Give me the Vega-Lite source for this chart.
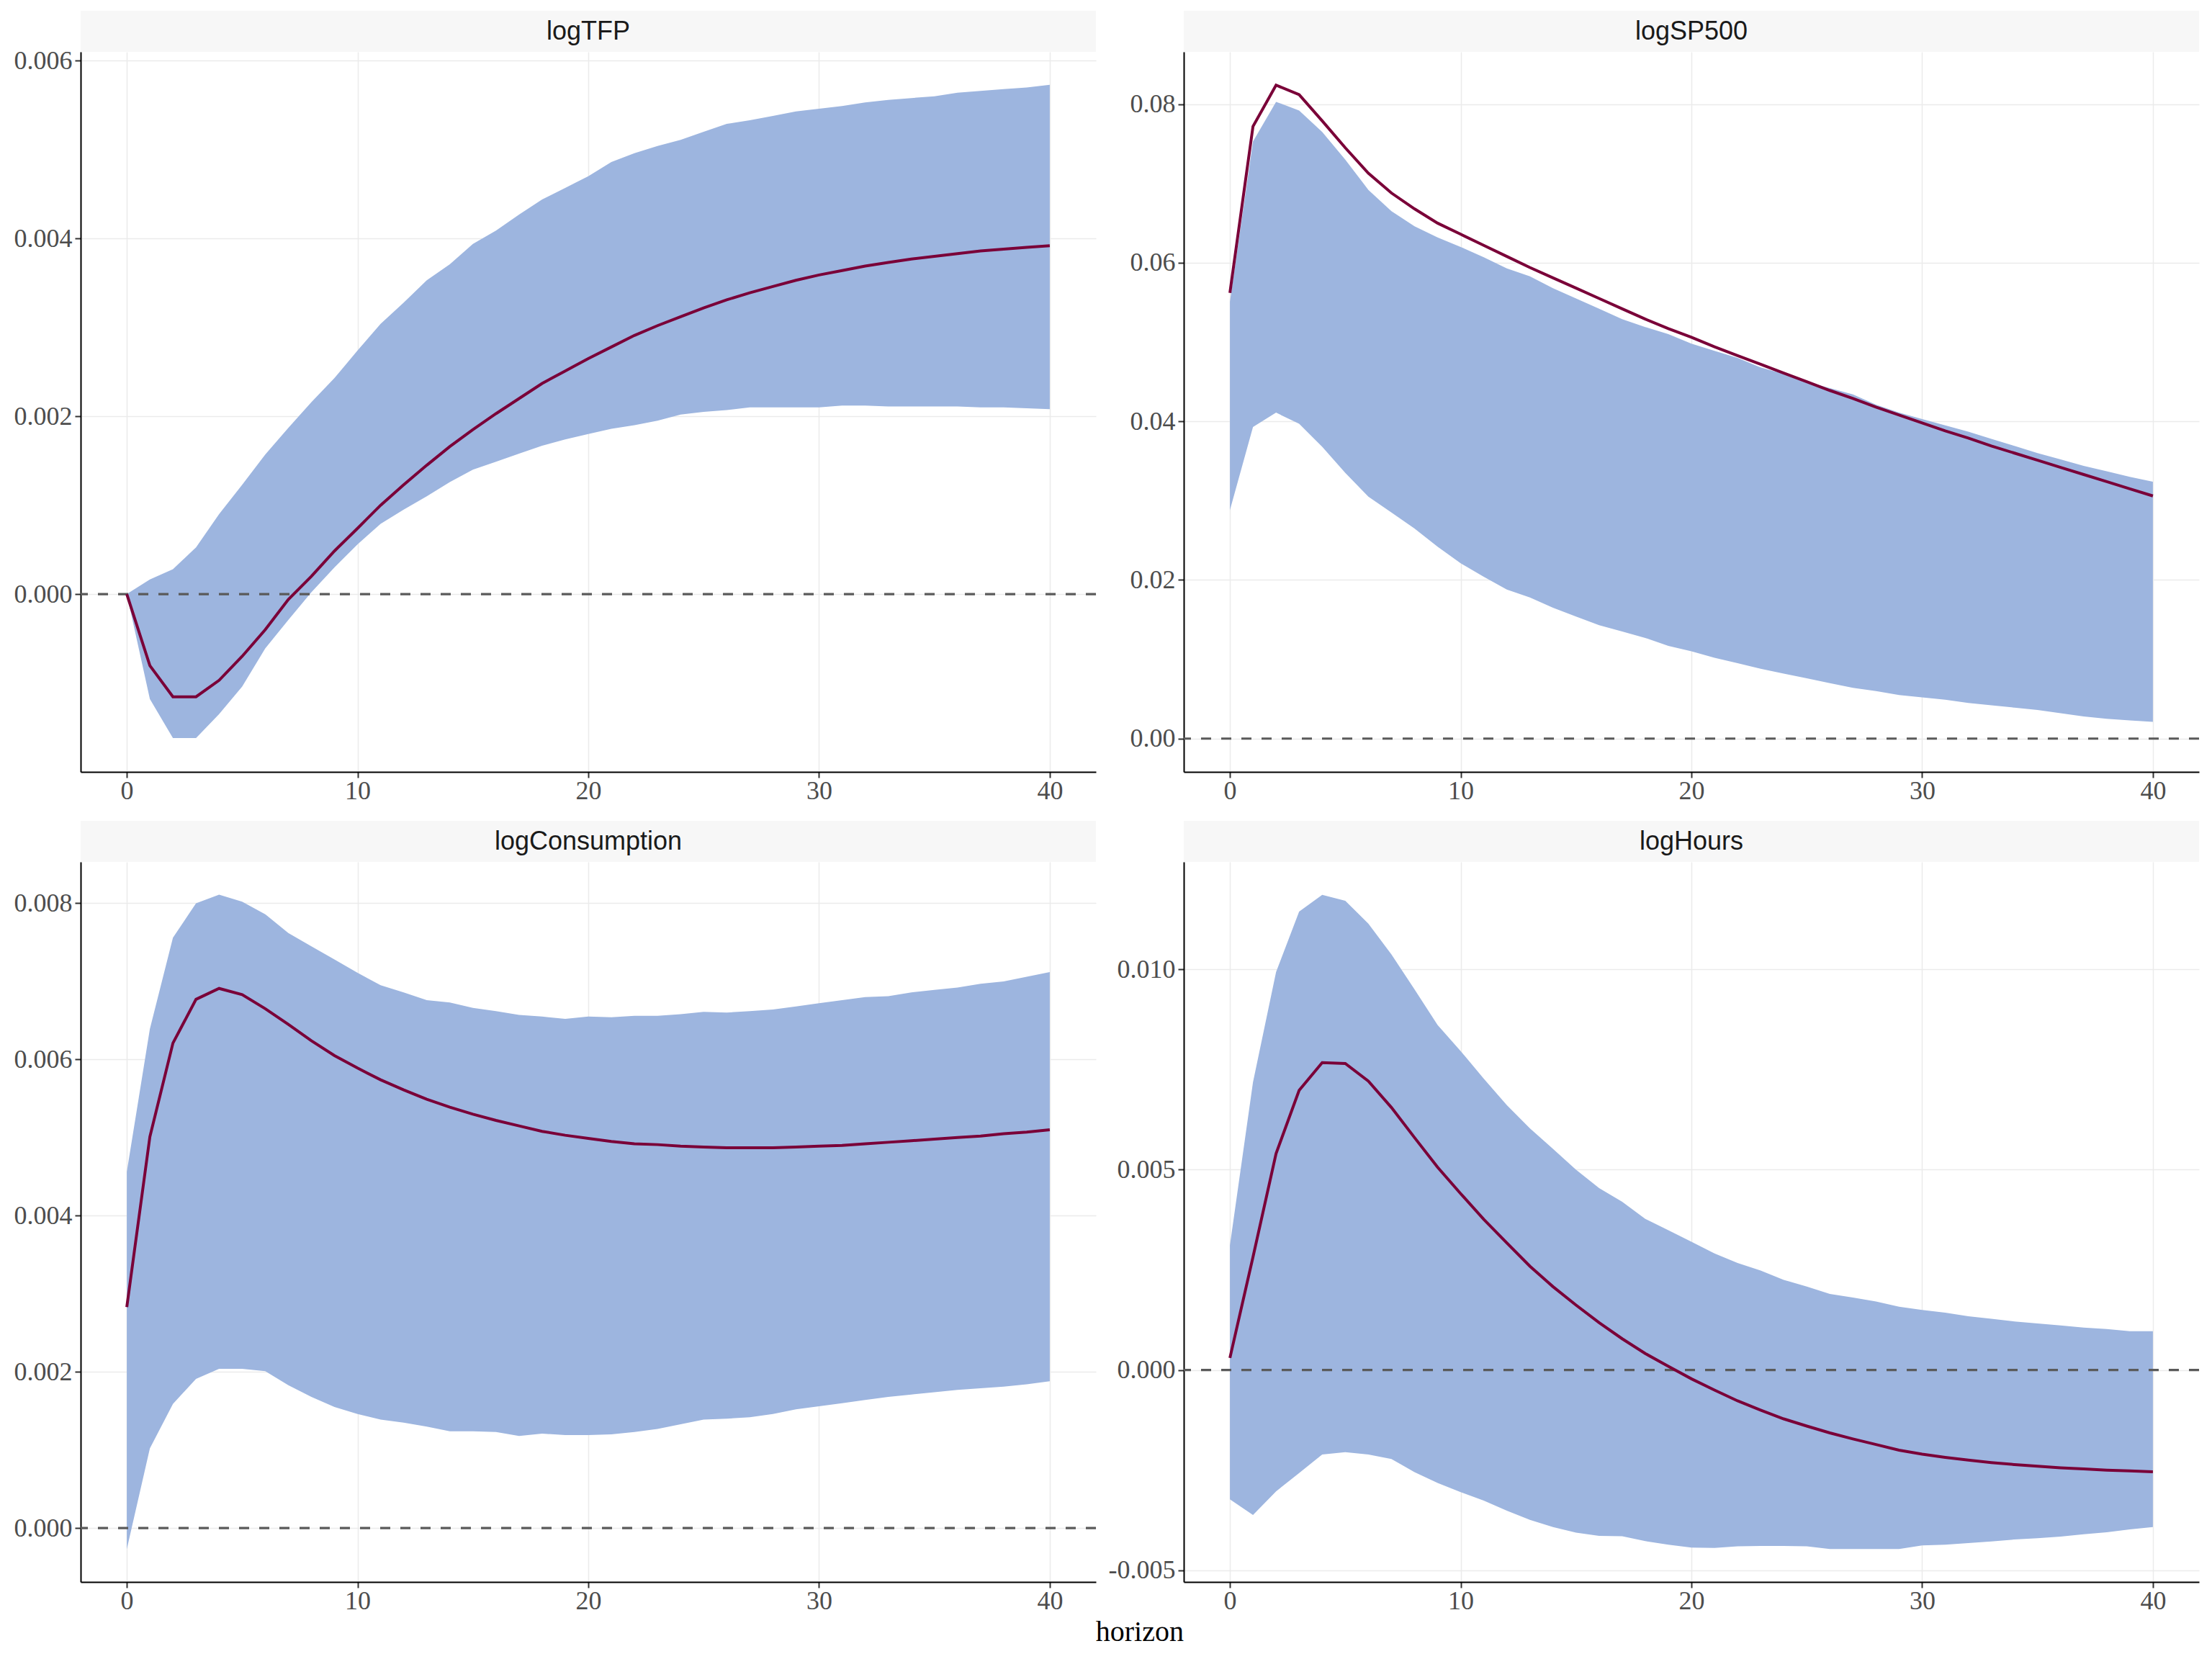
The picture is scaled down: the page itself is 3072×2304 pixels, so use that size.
{
  "$schema": "https://vega.github.io/schema/vega-lite/v6.json",
  "background": "white",
  "padding": {"left": 12, "top": 15, "right": 15, "bottom": 5},
  "title": {"text": "horizon", "orient": "bottom", "anchor": "middle", "font": "Liberation Serif", "fontSize": 40, "fontWeight": "normal", "color": "black", "offset": 0, "dx": 49},
  "datasets": {
    "irf": [
      {"var":"logTFP","h":0,"mean":0,"lo":0,"hi":0},
      {"var":"logTFP","h":1,"mean":-0.000804,"lo":-0.00118,"hi":0.000165},
      {"var":"logTFP","h":2,"mean":-0.001155,"lo":-0.00162,"hi":0.00028},
      {"var":"logTFP","h":3,"mean":-0.001155,"lo":-0.00162,"hi":0.000526},
      {"var":"logTFP","h":4,"mean":-0.00097,"lo":-0.00135,"hi":0.0009},
      {"var":"logTFP","h":5,"mean":-0.0007,"lo":-0.00104,"hi":0.00123},
      {"var":"logTFP","h":6,"mean":-0.0004,"lo":-0.00061,"hi":0.00157},
      {"var":"logTFP","h":7,"mean":-0.00006,"lo":-0.00029,"hi":0.00187},
      {"var":"logTFP","h":8,"mean":0.0002,"lo":0.00002,"hi":0.00216},
      {"var":"logTFP","h":9,"mean":0.000485,"lo":0.0003,"hi":0.00243},
      {"var":"logTFP","h":10,"mean":0.00074,"lo":0.00056,"hi":0.00274},
      {"var":"logTFP","h":11,"mean":0.001,"lo":0.00079,"hi":0.00304},
      {"var":"logTFP","h":12,"mean":0.00123,"lo":0.00095,"hi":0.00328},
      {"var":"logTFP","h":13,"mean":0.00145,"lo":0.0011,"hi":0.00353},
      {"var":"logTFP","h":14,"mean":0.00166,"lo":0.00126,"hi":0.00371},
      {"var":"logTFP","h":15,"mean":0.00185,"lo":0.0014,"hi":0.00394},
      {"var":"logTFP","h":16,"mean":0.00203,"lo":0.00149,"hi":0.00409},
      {"var":"logTFP","h":17,"mean":0.0022,"lo":0.00158,"hi":0.00427},
      {"var":"logTFP","h":18,"mean":0.00237,"lo":0.00167,"hi":0.00444},
      {"var":"logTFP","h":19,"mean":0.00251,"lo":0.00174,"hi":0.00457},
      {"var":"logTFP","h":20,"mean":0.00265,"lo":0.0018,"hi":0.0047},
      {"var":"logTFP","h":21,"mean":0.00278,"lo":0.00186,"hi":0.00486},
      {"var":"logTFP","h":22,"mean":0.00291,"lo":0.0019,"hi":0.00496},
      {"var":"logTFP","h":23,"mean":0.00302,"lo":0.00195,"hi":0.00504},
      {"var":"logTFP","h":24,"mean":0.00312,"lo":0.00202,"hi":0.00511},
      {"var":"logTFP","h":25,"mean":0.00322,"lo":0.00205,"hi":0.0052},
      {"var":"logTFP","h":26,"mean":0.00331,"lo":0.00207,"hi":0.00529},
      {"var":"logTFP","h":27,"mean":0.00339,"lo":0.0021,"hi":0.00533},
      {"var":"logTFP","h":28,"mean":0.00346,"lo":0.0021,"hi":0.00538},
      {"var":"logTFP","h":29,"mean":0.00353,"lo":0.0021,"hi":0.00543},
      {"var":"logTFP","h":30,"mean":0.00359,"lo":0.0021,"hi":0.00546},
      {"var":"logTFP","h":31,"mean":0.00364,"lo":0.00212,"hi":0.00549},
      {"var":"logTFP","h":32,"mean":0.00369,"lo":0.00212,"hi":0.00553},
      {"var":"logTFP","h":33,"mean":0.00373,"lo":0.00211,"hi":0.00556},
      {"var":"logTFP","h":34,"mean":0.00377,"lo":0.00211,"hi":0.00558},
      {"var":"logTFP","h":35,"mean":0.0038,"lo":0.00211,"hi":0.0056},
      {"var":"logTFP","h":36,"mean":0.00383,"lo":0.00211,"hi":0.00564},
      {"var":"logTFP","h":37,"mean":0.00386,"lo":0.0021,"hi":0.00566},
      {"var":"logTFP","h":38,"mean":0.00388,"lo":0.0021,"hi":0.00568},
      {"var":"logTFP","h":39,"mean":0.0039,"lo":0.00209,"hi":0.0057},
      {"var":"logTFP","h":40,"mean":0.00392,"lo":0.00208,"hi":0.00573},

      {"var":"logSP500","h":0,"mean":0.0562,"lo":0.0288,"hi":0.0551},
      {"var":"logSP500","h":1,"mean":0.0772,"lo":0.0393,"hi":0.0753},
      {"var":"logSP500","h":2,"mean":0.0824,"lo":0.0411,"hi":0.0803},
      {"var":"logSP500","h":3,"mean":0.0812,"lo":0.0397,"hi":0.0792},
      {"var":"logSP500","h":4,"mean":0.0779,"lo":0.0368,"hi":0.0765},
      {"var":"logSP500","h":5,"mean":0.0745,"lo":0.0335,"hi":0.073},
      {"var":"logSP500","h":6,"mean":0.0713,"lo":0.0305,"hi":0.0692},
      {"var":"logSP500","h":7,"mean":0.0688,"lo":0.0285,"hi":0.0665},
      {"var":"logSP500","h":8,"mean":0.0668,"lo":0.0265,"hi":0.0646},
      {"var":"logSP500","h":9,"mean":0.065,"lo":0.0242,"hi":0.0632},
      {"var":"logSP500","h":10,"mean":0.0636,"lo":0.0221,"hi":0.062},
      {"var":"logSP500","h":11,"mean":0.0622,"lo":0.0204,"hi":0.0607},
      {"var":"logSP500","h":12,"mean":0.0608,"lo":0.0188,"hi":0.0593},
      {"var":"logSP500","h":13,"mean":0.0594,"lo":0.0178,"hi":0.0583},
      {"var":"logSP500","h":14,"mean":0.0581,"lo":0.0165,"hi":0.0568},
      {"var":"logSP500","h":15,"mean":0.0568,"lo":0.0154,"hi":0.0555},
      {"var":"logSP500","h":16,"mean":0.0555,"lo":0.0143,"hi":0.0542},
      {"var":"logSP500","h":17,"mean":0.0542,"lo":0.0135,"hi":0.0529},
      {"var":"logSP500","h":18,"mean":0.0529,"lo":0.0127,"hi":0.0519},
      {"var":"logSP500","h":19,"mean":0.0517,"lo":0.0117,"hi":0.051},
      {"var":"logSP500","h":20,"mean":0.0506,"lo":0.011,"hi":0.0498},
      {"var":"logSP500","h":21,"mean":0.0494,"lo":0.0102,"hi":0.0489},
      {"var":"logSP500","h":22,"mean":0.0483,"lo":0.0095,"hi":0.048},
      {"var":"logSP500","h":23,"mean":0.0472,"lo":0.0088,"hi":0.0468},
      {"var":"logSP500","h":24,"mean":0.0461,"lo":0.0082,"hi":0.046},
      {"var":"logSP500","h":25,"mean":0.045,"lo":0.0076,"hi":0.045},
      {"var":"logSP500","h":26,"mean":0.0439,"lo":0.007,"hi":0.0442},
      {"var":"logSP500","h":27,"mean":0.0429,"lo":0.0064,"hi":0.0434},
      {"var":"logSP500","h":28,"mean":0.0418,"lo":0.006,"hi":0.0421},
      {"var":"logSP500","h":29,"mean":0.0408,"lo":0.0055,"hi":0.0411},
      {"var":"logSP500","h":30,"mean":0.0398,"lo":0.0052,"hi":0.0403},
      {"var":"logSP500","h":31,"mean":0.0388,"lo":0.0049,"hi":0.0395},
      {"var":"logSP500","h":32,"mean":0.0379,"lo":0.0045,"hi":0.0387},
      {"var":"logSP500","h":33,"mean":0.0369,"lo":0.0042,"hi":0.0378},
      {"var":"logSP500","h":34,"mean":0.036,"lo":0.0039,"hi":0.0369},
      {"var":"logSP500","h":35,"mean":0.0351,"lo":0.0036,"hi":0.036},
      {"var":"logSP500","h":36,"mean":0.0342,"lo":0.0032,"hi":0.0352},
      {"var":"logSP500","h":37,"mean":0.0333,"lo":0.0028,"hi":0.0344},
      {"var":"logSP500","h":38,"mean":0.0324,"lo":0.0025,"hi":0.0337},
      {"var":"logSP500","h":39,"mean":0.0315,"lo":0.0023,"hi":0.033},
      {"var":"logSP500","h":40,"mean":0.0306,"lo":0.0021,"hi":0.0324},

      {"var":"logConsumption","h":0,"mean":0.00283,"lo":-0.00027,"hi":0.00456},
      {"var":"logConsumption","h":1,"mean":0.00501,"lo":0.00102,"hi":0.00639},
      {"var":"logConsumption","h":2,"mean":0.00621,"lo":0.00159,"hi":0.00756},
      {"var":"logConsumption","h":3,"mean":0.00677,"lo":0.00191,"hi":0.008},
      {"var":"logConsumption","h":4,"mean":0.00691,"lo":0.00204,"hi":0.00811},
      {"var":"logConsumption","h":5,"mean":0.00683,"lo":0.00204,"hi":0.00802},
      {"var":"logConsumption","h":6,"mean":0.00665,"lo":0.00201,"hi":0.00786},
      {"var":"logConsumption","h":7,"mean":0.00645,"lo":0.00183,"hi":0.00762},
      {"var":"logConsumption","h":8,"mean":0.00624,"lo":0.00168,"hi":0.00745},
      {"var":"logConsumption","h":9,"mean":0.00605,"lo":0.00155,"hi":0.00728},
      {"var":"logConsumption","h":10,"mean":0.00589,"lo":0.00146,"hi":0.00711},
      {"var":"logConsumption","h":11,"mean":0.00574,"lo":0.00139,"hi":0.00695},
      {"var":"logConsumption","h":12,"mean":0.00561,"lo":0.00135,"hi":0.00686},
      {"var":"logConsumption","h":13,"mean":0.00549,"lo":0.0013,"hi":0.00676},
      {"var":"logConsumption","h":14,"mean":0.00539,"lo":0.00124,"hi":0.00673},
      {"var":"logConsumption","h":15,"mean":0.0053,"lo":0.00124,"hi":0.00666},
      {"var":"logConsumption","h":16,"mean":0.00522,"lo":0.00123,"hi":0.00662},
      {"var":"logConsumption","h":17,"mean":0.00515,"lo":0.00118,"hi":0.00657},
      {"var":"logConsumption","h":18,"mean":0.00508,"lo":0.00121,"hi":0.00655},
      {"var":"logConsumption","h":19,"mean":0.00503,"lo":0.00119,"hi":0.00652},
      {"var":"logConsumption","h":20,"mean":0.00499,"lo":0.00119,"hi":0.00655},
      {"var":"logConsumption","h":21,"mean":0.00495,"lo":0.0012,"hi":0.00654},
      {"var":"logConsumption","h":22,"mean":0.00492,"lo":0.00123,"hi":0.00656},
      {"var":"logConsumption","h":23,"mean":0.00491,"lo":0.00127,"hi":0.00656},
      {"var":"logConsumption","h":24,"mean":0.00489,"lo":0.00133,"hi":0.00658},
      {"var":"logConsumption","h":25,"mean":0.00488,"lo":0.00139,"hi":0.00661},
      {"var":"logConsumption","h":26,"mean":0.00487,"lo":0.0014,"hi":0.0066},
      {"var":"logConsumption","h":27,"mean":0.00487,"lo":0.00142,"hi":0.00662},
      {"var":"logConsumption","h":28,"mean":0.00487,"lo":0.00146,"hi":0.00664},
      {"var":"logConsumption","h":29,"mean":0.00488,"lo":0.00152,"hi":0.00668},
      {"var":"logConsumption","h":30,"mean":0.00489,"lo":0.00156,"hi":0.00672},
      {"var":"logConsumption","h":31,"mean":0.0049,"lo":0.0016,"hi":0.00676},
      {"var":"logConsumption","h":32,"mean":0.00492,"lo":0.00164,"hi":0.0068},
      {"var":"logConsumption","h":33,"mean":0.00494,"lo":0.00168,"hi":0.00681},
      {"var":"logConsumption","h":34,"mean":0.00496,"lo":0.00171,"hi":0.00686},
      {"var":"logConsumption","h":35,"mean":0.00498,"lo":0.00174,"hi":0.00689},
      {"var":"logConsumption","h":36,"mean":0.005,"lo":0.00177,"hi":0.00692},
      {"var":"logConsumption","h":37,"mean":0.00502,"lo":0.00179,"hi":0.00697},
      {"var":"logConsumption","h":38,"mean":0.00505,"lo":0.00181,"hi":0.007},
      {"var":"logConsumption","h":39,"mean":0.00507,"lo":0.00184,"hi":0.00706},
      {"var":"logConsumption","h":40,"mean":0.0051,"lo":0.00188,"hi":0.00712},

      {"var":"logHours","h":0,"mean":0.0003,"lo":-0.00323,"hi":0.00311},
      {"var":"logHours","h":1,"mean":0.00282,"lo":-0.00362,"hi":0.00718},
      {"var":"logHours","h":2,"mean":0.0054,"lo":-0.00303,"hi":0.00993},
      {"var":"logHours","h":3,"mean":0.00698,"lo":-0.00257,"hi":0.01144},
      {"var":"logHours","h":4,"mean":0.00767,"lo":-0.00211,"hi":0.01186},
      {"var":"logHours","h":5,"mean":0.00765,"lo":-0.00205,"hi":0.01171},
      {"var":"logHours","h":6,"mean":0.00721,"lo":-0.00211,"hi":0.01114},
      {"var":"logHours","h":7,"mean":0.00655,"lo":-0.00222,"hi":0.01037},
      {"var":"logHours","h":8,"mean":0.0058,"lo":-0.00255,"hi":0.0095},
      {"var":"logHours","h":9,"mean":0.00506,"lo":-0.00282,"hi":0.00861},
      {"var":"logHours","h":10,"mean":0.0044,"lo":-0.00305,"hi":0.00796},
      {"var":"logHours","h":11,"mean":0.00376,"lo":-0.00326,"hi":0.00727},
      {"var":"logHours","h":12,"mean":0.00317,"lo":-0.00351,"hi":0.00661},
      {"var":"logHours","h":13,"mean":0.00259,"lo":-0.00374,"hi":0.00603},
      {"var":"logHours","h":14,"mean":0.00208,"lo":-0.00392,"hi":0.00552},
      {"var":"logHours","h":15,"mean":0.00162,"lo":-0.00406,"hi":0.005},
      {"var":"logHours","h":16,"mean":0.00118,"lo":-0.00414,"hi":0.00454},
      {"var":"logHours","h":17,"mean":0.00078,"lo":-0.00415,"hi":0.0042},
      {"var":"logHours","h":18,"mean":0.00041,"lo":-0.00427,"hi":0.00377},
      {"var":"logHours","h":19,"mean":0.00009,"lo":-0.00436,"hi":0.00349},
      {"var":"logHours","h":20,"mean":-0.00022,"lo":-0.00443,"hi":0.0032},
      {"var":"logHours","h":21,"mean":-0.0005,"lo":-0.00444,"hi":0.00291},
      {"var":"logHours","h":22,"mean":-0.00077,"lo":-0.0044,"hi":0.00267},
      {"var":"logHours","h":23,"mean":-0.001,"lo":-0.00439,"hi":0.00248},
      {"var":"logHours","h":24,"mean":-0.00122,"lo":-0.00439,"hi":0.00225},
      {"var":"logHours","h":25,"mean":-0.0014,"lo":-0.0044,"hi":0.00208},
      {"var":"logHours","h":26,"mean":-0.00157,"lo":-0.00447,"hi":0.0019},
      {"var":"logHours","h":27,"mean":-0.00172,"lo":-0.00447,"hi":0.00181},
      {"var":"logHours","h":28,"mean":-0.00186,"lo":-0.00447,"hi":0.00171},
      {"var":"logHours","h":29,"mean":-0.002,"lo":-0.00447,"hi":0.00158},
      {"var":"logHours","h":30,"mean":-0.0021,"lo":-0.00438,"hi":0.0015},
      {"var":"logHours","h":31,"mean":-0.00218,"lo":-0.00436,"hi":0.00143},
      {"var":"logHours","h":32,"mean":-0.00225,"lo":-0.00432,"hi":0.00134},
      {"var":"logHours","h":33,"mean":-0.00231,"lo":-0.00428,"hi":0.00128},
      {"var":"logHours","h":34,"mean":-0.00236,"lo":-0.00423,"hi":0.00121},
      {"var":"logHours","h":35,"mean":-0.0024,"lo":-0.0042,"hi":0.00116},
      {"var":"logHours","h":36,"mean":-0.00244,"lo":-0.00416,"hi":0.00111},
      {"var":"logHours","h":37,"mean":-0.00247,"lo":-0.0041,"hi":0.00106},
      {"var":"logHours","h":38,"mean":-0.0025,"lo":-0.00405,"hi":0.00102},
      {"var":"logHours","h":39,"mean":-0.00252,"lo":-0.00398,"hi":0.00097},
      {"var":"logHours","h":40,"mean":-0.00254,"lo":-0.00392,"hi":0.00097}
    ]
  },
  "columns": 2,
  "spacing": {"row": 18, "column": 15},
  "resolve": {"scale": {"x": "independent", "y": "independent"}},
  "concat": [
    {
      "spacing": 0,
      "bounds": "flush",
      "resolve": {"scale": {"x": "independent", "y": "independent"}},
      "vconcat": [
        {
          "width": 1410, "height": 57,
          "view": {"fill": "#f7f7f7", "stroke": null},
          "data": {"values": [{"var": "logTFP"}]},
          "mark": {"type": "text", "font": "Liberation Sans", "fontSize": 36, "color": "#1a1a1a", "align": "center", "baseline": "middle"},
          "encoding": {
            "x": {"datum": 0.5, "type": "quantitative", "scale": {"domain": [0, 1]}, "axis": null},
            "y": {"datum": 0.5, "type": "quantitative", "scale": {"domain": [0, 1]}, "axis": null},
            "text": {"field": "var"}
          }
        },
        {
          "width": 1410, "height": 1000,
          "layer": [
            {
              "data": {"name": "irf"},
              "transform": [{"filter": "datum.var === 'logTFP'"}],
              "mark": {"type": "area", "color": "#9db5df", "opacity": 1},
              "encoding": {
                "x": {"field": "h", "type": "quantitative", "scale": {"domain": [-2, 42], "nice": false, "zero": false}, "axis": {"values": [0, 10, 20, 30, 40]}},
                "y": {"field": "lo", "type": "quantitative", "scale": {"domain": [-0.002, 0.0061], "nice": false, "zero": false}, "axis": {"values": [0, 0.002, 0.004, 0.006], "format": ".3f"}},
                "y2": {"field": "hi"}
              }
            },
            {
              "data": {"values": [{"y": 0}]},
              "mark": {"type": "rule", "color": "#5a5a5a", "strokeWidth": 3.2, "strokeDash": [14, 14]},
              "encoding": {"y": {"field": "y", "type": "quantitative"}}
            },
            {
              "data": {"name": "irf"},
              "transform": [{"filter": "datum.var === 'logTFP'"}],
              "mark": {"type": "line", "color": "#7a0038", "strokeWidth": 4},
              "encoding": {
                "x": {"field": "h", "type": "quantitative"},
                "y": {"field": "mean", "type": "quantitative"}
              }
            }
          ]
        }
      ]
    },
    {
      "spacing": 0,
      "bounds": "flush",
      "resolve": {"scale": {"x": "independent", "y": "independent"}},
      "vconcat": [
        {
          "width": 1410, "height": 57,
          "view": {"fill": "#f7f7f7", "stroke": null},
          "data": {"values": [{"var": "logSP500"}]},
          "mark": {"type": "text", "font": "Liberation Sans", "fontSize": 36, "color": "#1a1a1a", "align": "center", "baseline": "middle"},
          "encoding": {
            "x": {"datum": 0.5, "type": "quantitative", "scale": {"domain": [0, 1]}, "axis": null},
            "y": {"datum": 0.5, "type": "quantitative", "scale": {"domain": [0, 1]}, "axis": null},
            "text": {"field": "var"}
          }
        },
        {
          "width": 1410, "height": 1000,
          "layer": [
            {
              "data": {"name": "irf"},
              "transform": [{"filter": "datum.var === 'logSP500'"}],
              "mark": {"type": "area", "color": "#9db5df", "opacity": 1},
              "encoding": {
                "x": {"field": "h", "type": "quantitative", "scale": {"domain": [-2, 42], "nice": false, "zero": false}, "axis": {"values": [0, 10, 20, 30, 40]}},
                "y": {"field": "lo", "type": "quantitative", "scale": {"domain": [-0.0042, 0.0866], "nice": false, "zero": false}, "axis": {"values": [0, 0.02, 0.04, 0.06, 0.08], "format": ".2f"}},
                "y2": {"field": "hi"}
              }
            },
            {
              "data": {"values": [{"y": 0}]},
              "mark": {"type": "rule", "color": "#5a5a5a", "strokeWidth": 3.2, "strokeDash": [14, 14]},
              "encoding": {"y": {"field": "y", "type": "quantitative"}}
            },
            {
              "data": {"name": "irf"},
              "transform": [{"filter": "datum.var === 'logSP500'"}],
              "mark": {"type": "line", "color": "#7a0038", "strokeWidth": 4},
              "encoding": {
                "x": {"field": "h", "type": "quantitative"},
                "y": {"field": "mean", "type": "quantitative"}
              }
            }
          ]
        }
      ]
    },
    {
      "spacing": 0,
      "bounds": "flush",
      "resolve": {"scale": {"x": "independent", "y": "independent"}},
      "vconcat": [
        {
          "width": 1410, "height": 57,
          "view": {"fill": "#f7f7f7", "stroke": null},
          "data": {"values": [{"var": "logConsumption"}]},
          "mark": {"type": "text", "font": "Liberation Sans", "fontSize": 36, "color": "#1a1a1a", "align": "center", "baseline": "middle"},
          "encoding": {
            "x": {"datum": 0.5, "type": "quantitative", "scale": {"domain": [0, 1]}, "axis": null},
            "y": {"datum": 0.5, "type": "quantitative", "scale": {"domain": [0, 1]}, "axis": null},
            "text": {"field": "var"}
          }
        },
        {
          "width": 1410, "height": 1000,
          "layer": [
            {
              "data": {"name": "irf"},
              "transform": [{"filter": "datum.var === 'logConsumption'"}],
              "mark": {"type": "area", "color": "#9db5df", "opacity": 1},
              "encoding": {
                "x": {"field": "h", "type": "quantitative", "scale": {"domain": [-2, 42], "nice": false, "zero": false}, "axis": {"values": [0, 10, 20, 30, 40]}},
                "y": {"field": "lo", "type": "quantitative", "scale": {"domain": [-0.00069, 0.00853], "nice": false, "zero": false}, "axis": {"values": [0, 0.002, 0.004, 0.006, 0.008], "format": ".3f"}},
                "y2": {"field": "hi"}
              }
            },
            {
              "data": {"values": [{"y": 0}]},
              "mark": {"type": "rule", "color": "#5a5a5a", "strokeWidth": 3.2, "strokeDash": [14, 14]},
              "encoding": {"y": {"field": "y", "type": "quantitative"}}
            },
            {
              "data": {"name": "irf"},
              "transform": [{"filter": "datum.var === 'logConsumption'"}],
              "mark": {"type": "line", "color": "#7a0038", "strokeWidth": 4},
              "encoding": {
                "x": {"field": "h", "type": "quantitative"},
                "y": {"field": "mean", "type": "quantitative"}
              }
            }
          ]
        }
      ]
    },
    {
      "spacing": 0,
      "bounds": "flush",
      "resolve": {"scale": {"x": "independent", "y": "independent"}},
      "vconcat": [
        {
          "width": 1410, "height": 57,
          "view": {"fill": "#f7f7f7", "stroke": null},
          "data": {"values": [{"var": "logHours"}]},
          "mark": {"type": "text", "font": "Liberation Sans", "fontSize": 36, "color": "#1a1a1a", "align": "center", "baseline": "middle"},
          "encoding": {
            "x": {"datum": 0.5, "type": "quantitative", "scale": {"domain": [0, 1]}, "axis": null},
            "y": {"datum": 0.5, "type": "quantitative", "scale": {"domain": [0, 1]}, "axis": null},
            "text": {"field": "var"}
          }
        },
        {
          "width": 1410, "height": 1000,
          "layer": [
            {
              "data": {"name": "irf"},
              "transform": [{"filter": "datum.var === 'logHours'"}],
              "mark": {"type": "area", "color": "#9db5df", "opacity": 1},
              "encoding": {
                "x": {"field": "h", "type": "quantitative", "scale": {"domain": [-2, 42], "nice": false, "zero": false}, "axis": {"values": [0, 10, 20, 30, 40]}},
                "y": {"field": "lo", "type": "quantitative", "scale": {"domain": [-0.00529, 0.01268], "nice": false, "zero": false}, "axis": {"values": [-0.005, 0, 0.005, 0.01], "format": ".3f", "labelExpr": "replace(datum.label, '\u2212', '-')"}},
                "y2": {"field": "hi"}
              }
            },
            {
              "data": {"values": [{"y": 0}]},
              "mark": {"type": "rule", "color": "#5a5a5a", "strokeWidth": 3.2, "strokeDash": [14, 14]},
              "encoding": {"y": {"field": "y", "type": "quantitative"}}
            },
            {
              "data": {"name": "irf"},
              "transform": [{"filter": "datum.var === 'logHours'"}],
              "mark": {"type": "line", "color": "#7a0038", "strokeWidth": 4},
              "encoding": {
                "x": {"field": "h", "type": "quantitative"},
                "y": {"field": "mean", "type": "quantitative"}
              }
            }
          ]
        }
      ]
    }
  ],
  "config": {
    "view": {"stroke": null},
    "axis": {
      "title": null,
      "domainColor": "#000000",
      "domainWidth": 2,
      "tickColor": "#333333",
      "tickWidth": 2,
      "tickSize": 8,
      "labelPadding": 4,
      "labelFont": "Liberation Serif",
      "labelFontSize": 36,
      "labelColor": "#4d4d4d",
      "gridColor": "#ebebeb",
      "gridWidth": 1.5
    },
    "axisY": {"minExtent": 100, "maxExtent": 100},
    "axisX": {"minExtent": 50, "maxExtent": 50, "labelFlush": false, "labelPadding": 1}
  }
}
